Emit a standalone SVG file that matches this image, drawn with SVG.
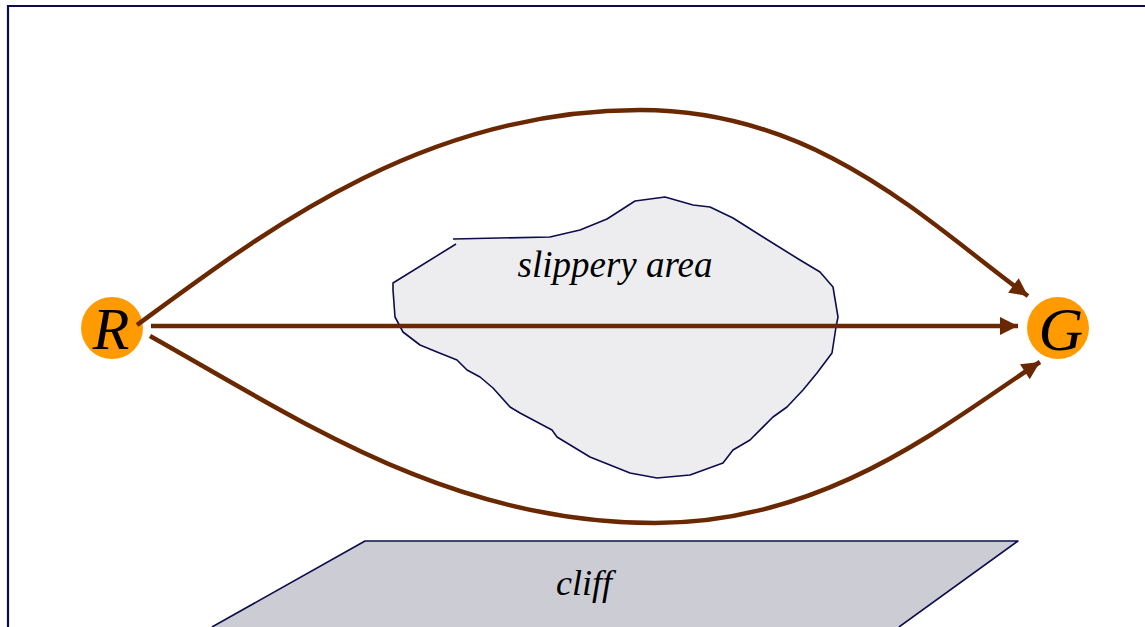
<svg xmlns="http://www.w3.org/2000/svg" width="1145" height="627" viewBox="0 0 1145 627">
  <style>
    .frame { fill: none; stroke: #0d0d4d; stroke-width: 2.2; }
    .outline { stroke: #0d0d4d; stroke-width: 1.6; stroke-linejoin: round; }
    .path { fill: none; stroke: #6a2800; stroke-width: 4.5; }
    .node { fill: #ff9a00; }
    .label { font-family: "Liberation Serif", "Times New Roman", serif; font-style: italic; fill: #000; text-anchor: middle; }
  </style>
  <defs>
    <marker id="head" viewBox="0 0 10 10" refX="10" refY="5" markerWidth="4.6" markerHeight="4" orient="auto" markerUnits="strokeWidth">
      <path d="M0,0 L10,5 L0,10 z" fill="#6a2800"/>
    </marker>
  </defs>

  <rect x="0" y="0" width="1145" height="627" fill="#ffffff"/>
  <!-- outer frame (right and bottom edges lie outside the canvas) -->
  <path class="frame" d="M8,640 L8,6 L1150,6"/>

  <!-- cliff -->
  <g id="cliff">
    <path class="outline" fill="#cbccd4" d="M212,627 L365,541 L1018,541 L899,627"/>
    <text class="label" x="584" y="595" font-size="36">cliff</text>
  </g>

  <!-- slippery area -->
  <g id="slippery">
    <path class="outline" fill="#ededf0" d="M456,244 L393,283 L393,290 L395,317 L403,332 L420,345 L437,352 L457,360 L467,370 L480,377 L493,388 L510,407 L520,413 L552,430 L557,437 L590,457 L610,465 L630,473 L657,478 L690,475 L723,463 L733,450 L750,440 L773,417 L787,407 L803,390 L817,373 L832,353 L836,327 L838,317 L833,287 L820,272 L800,260 L763,237 L733,218 L710,207 L693,205 L665,197 L635,201 L607,219 L580,230 L550,237 L453,239"/>
    <text class="label" x="615" y="277" font-size="37">slippery area</text>
  </g>

  <!-- robot and goal -->
  <g id="R">
    <circle class="node" cx="112" cy="328" r="31"/>
    <text class="label" x="111" y="349" font-size="60">R</text>
  </g>
  <g id="G">
    <circle class="node" cx="1058" cy="328" r="31"/>
    <text class="label" x="1061" y="350" font-size="62">G</text>
  </g>

  <!-- candidate routes -->
  <g id="routes">
    <path class="path" marker-end="url(#head)" d="M137,325 C260,235 420,110 640,110 C820,110 930,225 1028,296"/>
    <path class="path" marker-end="url(#head)" d="M151,326 L1018,326"/>
    <path class="path" marker-end="url(#head)" d="M150,336 C300,420 450,523 655,523 C830,523 950,420 1040,362"/>
  </g>
</svg>
